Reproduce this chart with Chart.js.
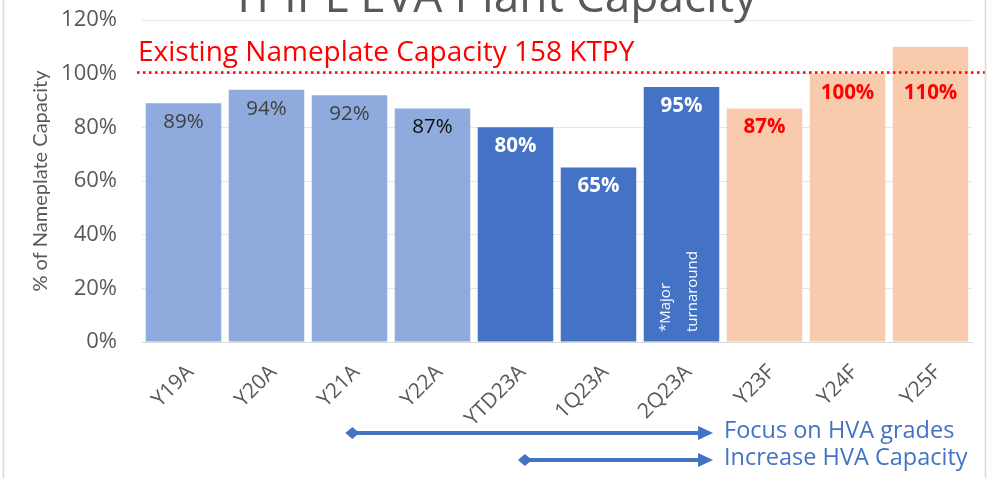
<!DOCTYPE html>
<html>
<head>
<meta charset="utf-8">
<script src="https://cdn.jsdelivr.net/npm/chart.js@4.4.1/dist/chart.umd.min.js"></script>
<style>
  html, body { margin: 0; padding: 0; background: #fff; }
  #wrap { width: 990px; height: 478px; position: relative; }
</style>
</head>
<body>
<div id="wrap"><canvas id="chartCapacity"></canvas></div>
<script>
const categories = ['Y19A', 'Y20A', 'Y21A', 'Y22A', 'YTD23A', '1Q23A', '2Q23A', 'Y23F', 'Y24F', 'Y25F'];
const capacityPct = [89, 94, 92, 87, 80, 65, 95, 87, 100, 110];
const yTicks = [0, 20, 40, 60, 80, 100, 120];
const nameplatePct = 100;

const barColors = ['#8FAADC', '#8FAADC', '#8FAADC', '#8FAADC', '#4472C4', '#4472C4', '#4472C4', '#F8CBAD', '#F8CBAD', '#F8CBAD'];
const labelColors = ['#404040', '#404040', '#404040', '#0D0D0D', '#FFFFFF', '#FFFFFF', '#FFFFFF', '#FF0000', '#FF0000', '#FF0000'];
const labelBold = [false, false, false, false, true, true, true, true, true, true];

// arrows under the axis: [from category, to category, text]
const arrowNotes = [
  [1.95, 6.38, 'Focus on HVA grades'],
  [4.03, 6.38, 'Increase HVA Capacity']
];

const FONT = '"Open Sans", Lato, sans-serif';
const GREY = '#595959';
const BLUE = '#4472C4';

const extrasPlugin = {
  id: 'extras',
  beforeDraw(chart) {
    const ctx = chart.ctx;
    ctx.save();
    ctx.fillStyle = '#fff';
    ctx.fillRect(0, 0, chart.width, chart.height);
    ctx.restore();
  },
  afterDatasetsDraw(chart) {
    const ctx = chart.ctx;
    const x = chart.scales.x;
    const y = chart.scales.y;
    const meta = chart.getDatasetMeta(0);

    ctx.save();

    // title, cut off at the top like the slide
    ctx.fillStyle = GREY;
    ctx.font = '46px ' + FONT;
    ctx.textAlign = 'center';
    ctx.textBaseline = 'alphabetic';
    ctx.fillText('TPIPL EVA Plant Capacity', 494, 12);

    // value labels
    ctx.textAlign = 'center';
    ctx.textBaseline = 'middle';
    meta.data.forEach((bar, i) => {
      const v = capacityPct[i];
      ctx.fillStyle = labelColors[i];
      ctx.font = (labelBold[i] ? 'bold ' : '') + '20.5px ' + FONT;
      ctx.fillText(v + '%', bar.x, y.getPixelForValue(Math.min(v, nameplatePct)) + 19);
    });

    // nameplate line
    const yLine = Math.round(y.getPixelForValue(nameplatePct)) - 1.5;
    ctx.strokeStyle = '#FF0000';
    ctx.lineWidth = 2.5;
    ctx.setLineDash([2.5, 3.5]);
    ctx.beginPath();
    ctx.moveTo(137, yLine);
    ctx.lineTo(987, yLine);
    ctx.stroke();
    ctx.setLineDash([]);

    ctx.fillStyle = '#FF0000';
    ctx.font = '28px ' + FONT;
    ctx.textAlign = 'left';
    ctx.textBaseline = 'alphabetic';
    ctx.fillText('Existing Nameplate Capacity 158 KTPY', 138, 61);

    // note inside the 2Q23A bar
    const b = meta.data[6];
    ctx.fillStyle = '#FFFFFF';
    ctx.font = '15px ' + FONT;
    ctx.translate(b.x, y.bottom - 10);
    ctx.rotate(-Math.PI / 2);
    ctx.textAlign = 'left';
    ctx.fillText('*Major', 0, -12);
    ctx.fillText('turnaround', 0, 15);
    ctx.setTransform(1, 0, 0, 1, 0, 0);

    // arrows
    arrowNotes.forEach(([from, to, text], k) => {
      const ay = 433 + k * 27;
      const x0 = x.getPixelForValue(from);
      const x1 = x.getPixelForValue(to);
      ctx.strokeStyle = BLUE;
      ctx.fillStyle = BLUE;
      ctx.lineWidth = 4;
      ctx.beginPath();
      ctx.moveTo(x0 + 4, ay);
      ctx.lineTo(x1 - 10, ay);
      ctx.stroke();
      ctx.beginPath();
      ctx.moveTo(x0, ay);
      ctx.lineTo(x0 + 7, ay - 6);
      ctx.lineTo(x0 + 14, ay);
      ctx.lineTo(x0 + 7, ay + 6);
      ctx.closePath();
      ctx.fill();
      ctx.beginPath();
      ctx.moveTo(x1, ay);
      ctx.lineTo(x1 - 15, ay - 7);
      ctx.lineTo(x1 - 15, ay + 7);
      ctx.closePath();
      ctx.fill();
      ctx.font = '23.5px ' + FONT;
      ctx.textAlign = 'left';
      ctx.textBaseline = 'middle';
      ctx.fillText(text, 724, ay - 2);
    });

    // frame
    ctx.strokeStyle = '#D9D9D9';
    ctx.lineWidth = 1.5;
    ctx.beginPath();
    ctx.moveTo(3.5, 0);
    ctx.lineTo(3.5, chart.height);
    ctx.moveTo(985.5, 0);
    ctx.lineTo(985.5, chart.height);
    ctx.stroke();

    ctx.restore();
  }
};

new Chart(document.getElementById('chartCapacity'), {
  type: 'bar',
  data: {
    labels: categories,
    datasets: [
      {
        data: capacityPct,
        backgroundColor: barColors,
        borderWidth: 0,
        barPercentage: 0.91,
        categoryPercentage: 1
      }
    ]
  },
  options: {
    responsive: true,
    maintainAspectRatio: false,
    animation: false,
    layout: { padding: { top: 20, right: 18, left: 0, bottom: 0 } },
    plugins: {
      legend: { display: false },
      tooltip: { enabled: false }
    },
    scales: {
      x: {
        grid: { display: false },
        border: { color: '#D9D9D9' },
        ticks: {
          color: GREY,
          font: { family: FONT, size: 21 },
          minRotation: 45,
          maxRotation: 45,
          padding: 10,
          labelOffset: 7
        },
        afterFit(scale) { scale.height = 136; }
      },
      y: {
        min: 0,
        max: 120,
        afterBuildTicks(scale) { scale.ticks = yTicks.map((v) => ({ value: v })); },
        grid: { color: '#E6E6E6', drawTicks: true, tickLength: 25, tickColor: 'rgba(0,0,0,0)' },
        border: { display: false },
        ticks: {
          color: GREY,
          font: { family: FONT, size: 22 },
          padding: 0,
          callback: (v) => v + '%'
        },
        title: {
          display: true,
          text: '% of Nameplate Capacity',
          color: GREY,
          font: { family: 'Lato, sans-serif', size: 20 },
          padding: { top: 29, bottom: 0 }
        },
        afterFit(scale) { scale.width = 142; }
      }
    }
  },
  plugins: [extrasPlugin]
});
</script>
</body>
</html>
